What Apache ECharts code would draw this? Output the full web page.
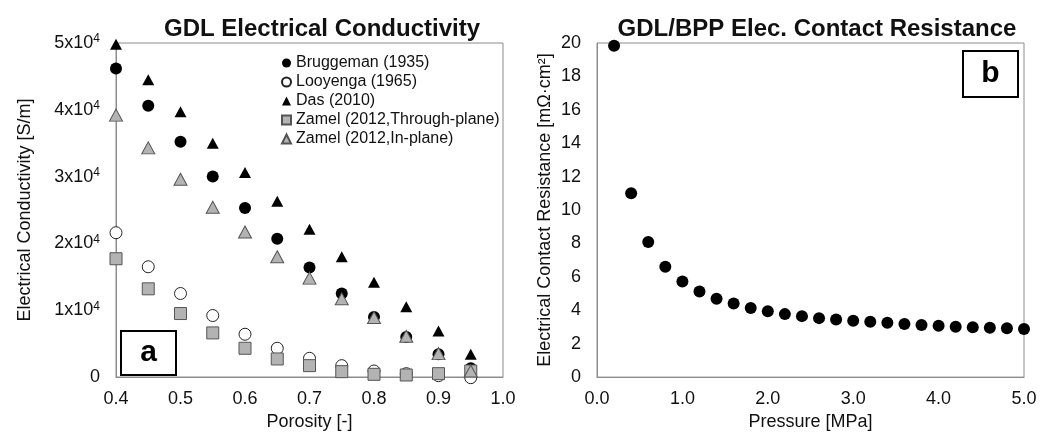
<!DOCTYPE html>
<html>
<head>
<meta charset="utf-8">
<script src="https://cdn.jsdelivr.net/npm/echarts@6/dist/echarts.min.js"></script>
<style>
  html, body { margin: 0; padding: 0; background: #fff; }
  #chart { width: 1051px; height: 436px; }
</style>
</head>
<body>
<div id="chart"></div>
<script>
  'use strict'

  /* data: panel a */
  var porosity = [0.4, 0.45, 0.5, 0.55, 0.6, 0.65, 0.7, 0.75, 0.8, 0.85, 0.9, 0.95];
  var bruggeman = [46200, 40600, 35200, 30000, 25300, 20700, 16400, 12500, 9000, 6000, 3400, 1300];
  var looyenga = [21600, 16500, 12500, 9200, 6400, 4300, 2800, 1700, 900, 500, 200, -100];
  var das = [49800, 44500, 39700, 35000, 30600, 26300, 22100, 18000, 14200, 10500, 6900, 3400];
  var zamelThrough = [17700, 13200, 9500, 6600, 4300, 2700, 1700, 800, 400, 300, 500, 900];
  var zamelIn = [39200, 34300, 29600, 25400, 21700, 18000, 14800, 11700, 8900, 6100, 3500, 900];

  /* data: panel b */
  var pressure = [0.2, 0.4, 0.6, 0.8, 1.0, 1.2, 1.4, 1.6, 1.8, 2.0, 2.2, 2.4, 2.6,
                  2.8, 3.0, 3.2, 3.4, 3.6, 3.8, 4.0, 4.2, 4.4, 4.6, 4.8, 5.0];
  var resistance = [19.84, 11.0, 8.09, 6.61, 5.72, 5.13, 4.69, 4.40, 4.14, 3.94, 3.77, 3.65, 3.53,
                    3.45, 3.37, 3.31, 3.25, 3.18, 3.12, 3.08, 3.02, 2.98, 2.96, 2.92, 2.88];

  var font = "'Liberation Sans', Arial, sans-serif";
  var frame = '#8c8c8c';

  function pairs(xs, ys) {
    return xs.map(function (x, i) { return [x, ys[i]]; });
  }

  var axisCommon = {
    axisLine: { show: true, lineStyle: { color: frame, width: 1 } },
    axisTick: { show: false },
    splitLine: { show: false },
    nameTextStyle: { fontFamily: font, fontSize: 18, color: '#111' }
  };

  function axis(extra) {
    return Object.assign({}, JSON.parse(JSON.stringify(axisCommon)), extra);
  }

  var chart = echarts.init(document.getElementById('chart'));
  var option = {
    animation: false,
    textStyle: { fontFamily: font },
    title: [
      {
        text: 'GDL Electrical Conductivity',
        left: 317, top: 12, textAlign: 'center',
        textStyle: { fontFamily: font, fontSize: 24, fontWeight: 'bold', color: '#111' }
      },
      {
        text: 'GDL/BPP Elec. Contact Resistance',
        left: 812, top: 12, textAlign: 'center',
        textStyle: { fontFamily: font, fontSize: 24, fontWeight: 'bold', color: '#111' }
      }
    ],
    legend: {
      data: ['Bruggeman (1935)', 'Looyenga (1965)', 'Das (2010)',
             'Zamel (2012,Through-plane)', 'Zamel (2012,In-plane)'],
      orient: 'vertical',
      left: 276, top: 50,
      itemWidth: 9, itemHeight: 9, itemGap: 3,
      textStyle: { fontFamily: font, fontSize: 16, color: '#111', lineHeight: 16 }
    },
    grid: [
      { left: 116, right: 548, top: 43, bottom: 54, show: true, borderColor: frame, borderWidth: 1 },
      { left: 597, right: 27, top: 43, bottom: 55, show: true, borderColor: frame, borderWidth: 1 }
    ],
    xAxis: [
      axis({
        gridIndex: 0, type: 'value', min: 0.4, max: 1.0, interval: 0.1,
        name: 'Porosity [-]', nameLocation: 'middle', nameGap: 36,
        axisLabel: { fontFamily: font, fontSize: 18, color: '#111', margin: 13,
          formatter: function (v) { return v.toFixed(1); } }
      }),
      axis({
        gridIndex: 1, type: 'value', min: 0, max: 5, interval: 1,
        name: 'Pressure [MPa]', nameLocation: 'middle', nameGap: 35,
        axisLabel: { fontFamily: font, fontSize: 18, color: '#111', margin: 13,
          formatter: function (v) { return v.toFixed(1); } }
      })
    ],
    yAxis: [
      axis({
        gridIndex: 0, type: 'value', min: 0, max: 50000, interval: 10000,
        name: 'Electrical Conductivity [S/m]', nameLocation: 'middle', nameGap: 82,
        axisLabel: {
          fontFamily: font, fontSize: 18, color: '#111', margin: 16,
          formatter: function (v) { return v === 0 ? '0' : (v / 10000) + 'x10{sup|4}'; },
          rich: { sup: { fontFamily: font, fontSize: 12, color: '#111', padding: [0, 0, 8, 0] } }
        }
      }),
      axis({
        gridIndex: 1, type: 'value', min: 0, max: 20, interval: 2,
        name: 'Electrical Contact Resistance [mΩ·cm²]', nameLocation: 'middle', nameGap: 43,
        axisLabel: { fontFamily: font, fontSize: 18, color: '#111', margin: 16 }
      })
    ],
    series: [
      {
        name: 'Bruggeman (1935)', type: 'scatter', xAxisIndex: 0, yAxisIndex: 0, clip: false,
        symbol: 'circle', symbolSize: 12,
        itemStyle: { color: '#000', opacity: 1 },
        data: pairs(porosity, bruggeman)
      },
      {
        name: 'Looyenga (1965)', type: 'scatter', xAxisIndex: 0, yAxisIndex: 0, clip: false,
        symbol: 'circle', symbolSize: 12,
        itemStyle: { color: '#fff', borderColor: '#222', borderWidth: 1, opacity: 1 },
        data: pairs(porosity, looyenga)
      },
      {
        name: 'Das (2010)', type: 'scatter', xAxisIndex: 0, yAxisIndex: 0, clip: false,
        symbol: 'triangle', symbolSize: [12, 11],
        itemStyle: { color: '#000', opacity: 1 },
        data: pairs(porosity, das)
      },
      {
        name: 'Zamel (2012,Through-plane)', type: 'scatter', xAxisIndex: 0, yAxisIndex: 0, clip: false,
        symbol: 'rect', symbolSize: 12,
        itemStyle: { color: '#b3b3b3', borderColor: '#555', borderWidth: 1, opacity: 1 },
        data: pairs(porosity, zamelThrough)
      },
      {
        name: 'Zamel (2012,In-plane)', type: 'scatter', xAxisIndex: 0, yAxisIndex: 0, clip: false,
        symbol: 'triangle', symbolSize: [13, 12],
        itemStyle: { color: '#b3b3b3', borderColor: '#555', borderWidth: 1, opacity: 1 },
        data: pairs(porosity, zamelIn)
      },
      {
        name: 'Contact resistance', type: 'scatter', xAxisIndex: 1, yAxisIndex: 1, clip: false,
        symbol: 'circle', symbolSize: 12,
        itemStyle: { color: '#000', opacity: 1 },
        data: pairs(pressure, resistance)
      }
    ],
    graphic: [
      { type: 'rect', shape: { x: 121, y: 331, width: 55, height: 44 },
        style: { fill: '#fff', stroke: '#000', lineWidth: 2 }, z: 100 },
      { type: 'text', x: 148.5, y: 353, z: 101,
        style: { text: 'a', fontFamily: font, fontSize: 30, fontWeight: 'bold', fill: '#000',
                 align: 'center', verticalAlign: 'middle' } },
      { type: 'rect', shape: { x: 963, y: 51, width: 55, height: 46 },
        style: { fill: '#fff', stroke: '#000', lineWidth: 2 }, z: 100 },
      { type: 'text', x: 990.5, y: 74, z: 101,
        style: { text: 'b', fontFamily: font, fontSize: 30, fontWeight: 'bold', fill: '#000',
                 align: 'center', verticalAlign: 'middle' } }
    ]
  };
  chart.setOption(option);
</script>
</body>
</html>
